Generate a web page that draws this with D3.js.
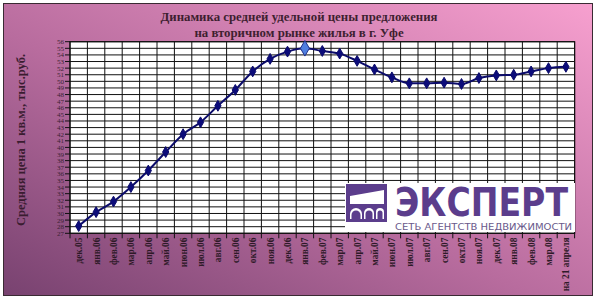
<!DOCTYPE html>
<html>
<head>
<meta charset="utf-8">
<script src="https://cdn.jsdelivr.net/npm/d3@7"></script>
<style>
  html, body { margin: 0; padding: 0; background: #fff; }
  svg { display: block; }
</style>
</head>
<body>
<svg id="chart" width="599" height="301"></svg>
<script>
// Chart data.
const months = ["дек.05", "янв.06", "фев.06", "мар.06", "апр.06", "май.06", "июн.06", "июл.06",
    "авг.06", "сен.06", "окт.06", "ноя.06", "дек.06", "янв.07", "фев.07", "мар.07", "апр.07",
    "май.07", "июн.07", "июл.07", "авг.07", "сен.07", "окт.07", "ноя.07", "дек.07", "янв.08",
    "фев.08", "мар.08", "на 21 апреля"];
const prices = [28.1, 30.2, 31.8, 34.0, 36.5, 39.3, 42.0, 43.8, 46.3, 48.7, 51.5, 53.4, 54.5,
    55.0, 54.6, 54.2, 53.1, 51.8, 50.6, 49.7, 49.7, 49.8, 49.6, 50.5, 50.9, 51.0, 51.5, 52.0, 52.2];
const yTicks = [27, 28, 29, 30, 31, 32, 33, 34, 35, 36, 37, 38, 39, 40, 41, 42, 43, 44, 45, 46,
    47, 48, 49, 50, 51, 52, 53, 54, 55, 56];
const highlightMonth = "янв.07";
const titleLines = ["Динамика средней удельной цены предложения", "на вторичном рынке жилья в г. Уфе"];
const yTitle = "Средняя цена 1 кв.м., тыс.руб.";

const svg = d3.select("#chart");
const plot = { left: 70, right: 574.6, top: 41.7, bottom: 233.3 };

// Background gradient of the chart frame.
const defs = svg.append("defs");
const grad = defs.append("linearGradient").attr("id", "bg")
    .attr("x1", 0).attr("y1", 1).attr("x2", 1).attr("y2", 0);
grad.append("stop").attr("offset", 0).attr("stop-color", "#784270");
grad.append("stop").attr("offset", 0.45).attr("stop-color", "#b86c9e");
grad.append("stop").attr("offset", 1).attr("stop-color", "#f7a0cf");

svg.append("rect")
    .attr("x", 3.5).attr("y", 3.5).attr("width", 589).attr("height", 292)
    .attr("fill", "url(#bg)").attr("stroke", "#3a2a33").attr("stroke-width", 1);

// Scales.
const x = d3.scaleBand().domain(months).range([plot.left, plot.right]);
const y = d3.scaleLinear().domain([27, 56]).range([plot.bottom, plot.top]);

// Plot area.
svg.append("rect")
    .attr("x", plot.left).attr("y", plot.top)
    .attr("width", plot.right - plot.left).attr("height", plot.bottom - plot.top)
    .attr("fill", "#fff");

// Horizontal gridlines (left unrounded so some blur grey, like the original).
svg.append("g").selectAll("line").data(yTicks).join("line")
    .attr("x1", plot.left - 5).attr("x2", plot.right)
    .attr("y1", d => y(d)).attr("y2", d => y(d))
    .attr("stroke", "#111").attr("stroke-width", 1);

// Vertical gridlines on category boundaries, with ticks below the axis.
const bounds = months.map(m => x(m)).concat([plot.right]);
svg.append("g").selectAll("line").data(bounds).join("line")
    .attr("x1", d => d).attr("x2", d => d)
    .attr("y1", plot.top).attr("y2", plot.bottom + 5)
    .attr("stroke", "#111").attr("stroke-width", 1);

svg.append("rect")
    .attr("x", plot.left).attr("y", plot.top)
    .attr("width", plot.right - plot.left).attr("height", plot.bottom - plot.top)
    .attr("fill", "none").attr("stroke", "#111").attr("stroke-width", 1.2);

// Y tick labels.
svg.append("g").selectAll("text").data(yTicks).join("text")
    .attr("x", 64).attr("y", d => y(d) + 2.5)
    .attr("text-anchor", "end")
    .attr("font-family", "Liberation Serif").attr("font-size", 7)
    .attr("fill", "#3a1f33")
    .text(d => d);

// X labels, rotated.
svg.append("g").selectAll("text").data(months).join("text")
    .attr("transform", d => `translate(${x(d) + x.bandwidth() / 2 + 3.5},237.5) rotate(-90)`)
    .attr("text-anchor", "end")
    .attr("font-family", "Liberation Serif").attr("font-size", 9.4).attr("font-weight", "bold")
    .attr("fill", "#2e1a28")
    .text(d => d);

// Titles.
svg.append("g").selectAll("text").data(titleLines).join("text")
    .attr("x", 299).attr("y", (d, i) => 21 + i * 16)
    .attr("text-anchor", "middle")
    .attr("font-family", "Liberation Serif").attr("font-size", 12.8).attr("font-weight", "bold")
    .attr("fill", "#3e1f30")
    .text(d => d);

svg.append("text")
    .attr("transform", "translate(25,140) rotate(-90)")
    .attr("text-anchor", "middle")
    .attr("font-family", "Liberation Serif").attr("font-size", 12.5).attr("font-weight", "bold")
    .attr("fill", "#3a1c30")
    .text(yTitle);

// Price line and markers.
const cx = d => x(d) + x.bandwidth() / 2;
const points = months.map((m, i) => ({ month: m, value: prices[i] }));

svg.append("path").datum(points)
    .attr("d", d3.line().x(d => cx(d.month)).y(d => y(d.value)).curve(d3.curveMonotoneX))
    .attr("fill", "none").attr("stroke", "#0b0b6a").attr("stroke-width", 2);

const diamond = d3.symbol().type(d3.symbolDiamond);
svg.append("g").selectAll("path").data(points).join("path")
    .attr("transform", d => `translate(${cx(d.month)},${y(d.value)})`)
    .attr("d", d => diamond.size(d.month === highlightMonth ? 70 : 34)())
    .attr("fill", d => d.month === highlightMonth ? "#4f7fe0" : "#0b0b7a")
    .attr("stroke", d => d.month === highlightMonth ? "#1e2f8a" : "#0b0b6a")
    .attr("stroke-width", 1);

// Agency logo drawn over the lower right of the plot.
const logo = svg.append("g");
logo.append("rect").attr("x", 345).attr("y", 183).attr("width", 230).attr("height", 49).attr("fill", "#fff");
logo.append("rect").attr("x", 346).attr("y", 184).attr("width", 41).attr("height", 38).attr("fill", "#5b3d8c");
logo.append("path").attr("d", "M350,196 L384,190 L384,204 L350,204 Z").attr("fill", "#fff");
[[350, 12], [364, 10], [376, 8]].forEach(([px, w]) => {
    logo.append("path")
        .attr("d", `M${px},219 L${px},${208 + w / 2} A${w / 2},${w / 2} 0 0 1 ${px + w},${208 + w / 2} L${px + w},219 Z`)
        .attr("fill", "#fff").attr("stroke", "none");
    logo.append("path")
        .attr("d", `M${px + 1.5},219 L${px + 1.5},${209 + w / 2} A${w / 2 - 1.5},${w / 2 - 1.5} 0 0 1 ${px + w - 1.5},${209 + w / 2} L${px + w - 1.5},219 Z`)
        .attr("fill", "#5b3d8c");
});
logo.append("text")
    .attr("x", 395).attr("y", 216)
    .attr("textLength", 173).attr("lengthAdjust", "spacingAndGlyphs")
    .attr("font-family", "DejaVu Sans").attr("font-weight", "bold").attr("font-size", 39)
    .attr("fill", "#5b3d8c")
    .text("ЭКСПЕРТ");
logo.append("text")
    .attr("x", 395).attr("y", 229.5)
    .attr("textLength", 177).attr("lengthAdjust", "spacingAndGlyphs")
    .attr("font-family", "DejaVu Sans").attr("font-size", 8.5)
    .attr("fill", "#6a5a8c")
    .text("СЕТЬ АГЕНТСТВ НЕДВИЖИМОСТИ");
</script>
</body>
</html>
